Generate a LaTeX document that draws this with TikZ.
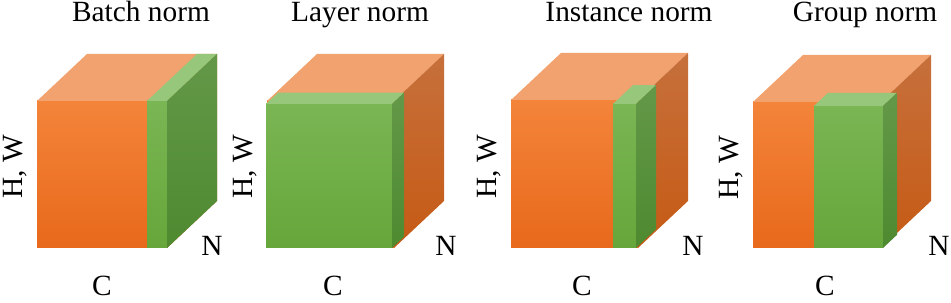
\documentclass[tikz,border=0pt]{standalone}
\usepackage{fontspec}
\setmainfont{Liberation Serif}
\usetikzlibrary{positioning}
\definecolor{orangetop}{HTML}{F2A26E}
\definecolor{orangefronta}{HTML}{F3843A}
\definecolor{orangefrontb}{HTML}{E8691B}
\definecolor{orangesidea}{HTML}{C6703C}
\definecolor{orangesideb}{HTML}{C65A14}
\definecolor{greentop}{HTML}{96C77A}
\definecolor{greenfronta}{HTML}{7AB654}
\definecolor{greenfrontb}{HTML}{66A63A}
\definecolor{greensidea}{HTML}{639848}
\definecolor{greensideb}{HTML}{4E8A30}
% cuboid: left, right, top, bottom, depth, colour
\newcommand{\cuboid}[6]{%
  \shade[top color=#6fronta, bottom color=#6frontb] (#1,#3) rectangle (#2,#4);
  \fill[#6top] (#1,#3) -- (#2,#3) -- ++(#5,-0.94*#5) -- ++(#1-#2,0) -- cycle;
  \shade[top color=#6sidea, bottom color=#6sideb]
    (#2,#3) -- (#2,#4) -- ++(#5,-0.94*#5) -- ++(0,#3-#4) -- cycle;
}

\begin{document}
\begin{tikzpicture}[
  x=0.02cm, y=-0.02cm,
  label/.style={font=\fontsize{16.7}{20}\selectfont, anchor=base, inner sep=0pt},
  side/.style={label, rotate=90}
]
  \useasboundingbox (0,0) rectangle (951,303);
  % Batch norm
  \cuboid{37}{167}{101}{248}{50}{orange}
  \cuboid{147}{167}{101}{248}{50}{green}
  \node[label] (tBatch) at (141,22) {Batch norm};
  \node[side] (hwBatch) at (22,167) {H, W};
  \node[label] (nBatch) at (212,256) {N};
  \node[label] (cBatch) at (102,296) {C};
  % Layer norm
  \cuboid{267}{394}{101}{248}{50}{orange}
  \cuboid{266}{392}{104}{248}{12}{green}
  \node[label] (tLayer) at (360,22) {Layer norm};
  \node[side] (hwLayer) at (252,167) {H, W};
  \node[label] (nLayer) at (446,256) {N};
  \node[label] (cLayer) at (333,296) {C};
  % Instance norm
  \cuboid{511}{638}{100}{248}{50}{orange}
  \cuboid{613}{636}{104}{248}{20}{green}
  \node[label] (tInstance) at (629,22) {Instance norm};
  \node[side] (hwInstance) at (496,167) {H, W};
  \node[label] (nInstance) at (693,256) {N};
  \node[label] (cInstance) at (582,296) {C};
  % Group norm
  \cuboid{753}{881}{102}{248}{50}{orange}
  \cuboid{814}{883}{106}{248}{14}{green}
  \node[label] (tGroup) at (865,22) {Group norm};
  \node[side] (hwGroup) at (738,168) {H, W};
  \node[label] (nGroup) at (939,256) {N};
  \node[label] (cGroup) at (825,296) {C};
\end{tikzpicture}
\end{document}
